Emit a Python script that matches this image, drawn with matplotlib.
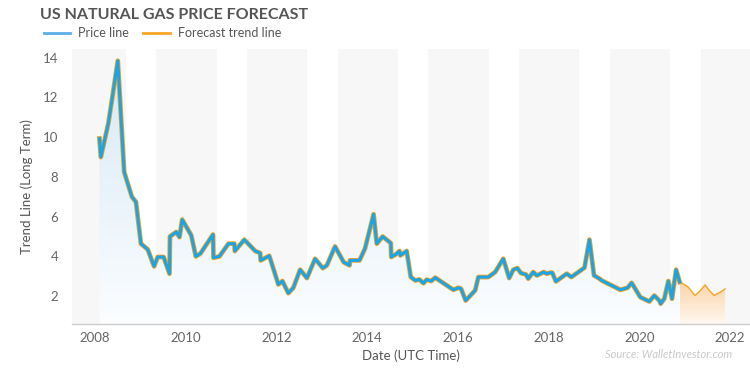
import numpy as np
import matplotlib
matplotlib.use("Agg")
import matplotlib.pyplot as plt
from matplotlib.colors import LinearSegmentedColormap
from matplotlib.lines import Line2D

# price history (decimal year, value)
price_years = [2008.095, 2008.126, 2008.29, 2008.37, 2008.50, 2008.64, 2008.81, 2008.90,
               2009.01, 2009.16, 2009.30, 2009.38, 2009.51, 2009.64, 2009.65, 2009.79,
               2009.86, 2009.92, 2010.12, 2010.22, 2010.32, 2010.60, 2010.61, 2010.74,
               2010.94, 2011.07, 2011.08, 2011.29, 2011.53, 2011.64, 2011.65, 2011.84,
               2012.04, 2012.13, 2012.26, 2012.37, 2012.52, 2012.67, 2012.85, 2013.02,
               2013.11, 2013.29, 2013.48, 2013.61, 2013.62, 2013.83, 2013.95, 2014.14,
               2014.21, 2014.34, 2014.52, 2014.53, 2014.63, 2014.71, 2014.73, 2014.87,
               2014.96, 2015.06, 2015.15, 2015.24, 2015.31, 2015.41, 2015.50, 2015.90,
               2016.01, 2016.07, 2016.17, 2016.38, 2016.45, 2016.67, 2016.82, 2017.00,
               2017.13, 2017.22, 2017.31, 2017.39, 2017.50, 2017.55, 2017.66, 2017.74,
               2017.89, 2017.96, 2018.03, 2018.08, 2018.16, 2018.40, 2018.50, 2018.79,
               2018.90, 2019.00, 2019.12, 2019.17, 2019.58, 2019.74, 2019.83, 2020.02,
               2020.22, 2020.33, 2020.44, 2020.47, 2020.55, 2020.64, 2020.72, 2020.81,
               2020.89]
price_values = [9.93, 9.0, 10.68, 11.86, 13.84, 8.25, 7.0, 6.74,
                4.64, 4.35, 3.5, 3.97, 3.97, 3.13, 5.0, 5.23,
                4.97, 5.85, 5.06, 4.0, 4.14, 5.1, 3.93, 4.0,
                4.64, 4.64, 4.27, 4.84, 4.27, 4.17, 3.8, 4.03,
                2.59, 2.76, 2.15, 2.42, 3.33, 2.91, 3.88, 3.41,
                3.55, 4.5, 3.71, 3.55, 3.8, 3.8, 4.39, 6.12,
                4.64, 5.0, 4.67, 3.97, 4.1, 4.27, 4.05, 4.27,
                2.96, 2.79, 2.84, 2.65, 2.83, 2.76, 2.93, 2.32,
                2.42, 2.37, 1.78, 2.29, 2.96, 2.96, 3.21, 3.88,
                2.91, 3.33, 3.41, 3.16, 3.09, 2.88, 3.21, 3.04,
                3.21, 3.13, 3.18, 3.18, 2.74, 3.13, 2.96, 3.43,
                4.84, 3.04, 2.88, 2.79, 2.32, 2.42, 2.67, 1.95,
                1.73, 2.03, 1.78, 1.62, 1.87, 2.76, 1.87, 3.33,
                2.71]

# forecast trend
fc_years = [2020.89, 2020.99, 2021.08, 2021.23, 2021.34, 2021.45, 2021.55, 2021.65,
            2021.74, 2021.79, 2021.89]
fc_values = [2.71, 2.59, 2.45, 2.03, 2.27, 2.57, 2.27, 2.03, 2.15, 2.2, 2.37]

x_ticks = [2008, 2010, 2012, 2014, 2016, 2018, 2020, 2022]
y_ticks = [2, 4, 6, 8, 10, 12, 14]

FONT = "Lato"
plt.rcParams["font.family"] = [FONT, "DejaVu Sans"]

fig = plt.figure(figsize=(7.5, 3.69), dpi=100)
ax = fig.add_axes([0.096, 0.122, 0.904, 0.745])

xmin, xmax = 2007.49, 2022.44
ymin, ymax = 0.6, 14.43

# alternating bands
for k in range(-1, 8):
    ax.axvspan(2007.35 + 2 * k, 2008.68 + 2 * k, color="#f7f7f7", lw=0, zorder=0)


def gradient_fill(xs, ys, top, c_top, c_bottom):
    poly = ax.fill_between(xs, ys, ymin, color="none", lw=0)
    cmap = LinearSegmentedColormap.from_list("g", [c_bottom, c_top])
    grad = np.linspace(0, 1, 256).reshape(-1, 1)
    im = ax.imshow(grad, extent=[min(xs), max(xs), ymin, top], aspect="auto",
                   cmap=cmap, origin="lower", zorder=1)
    im.set_clip_path(poly.get_paths()[0], transform=ax.transData)


gradient_fill(price_years, price_values, max(price_values), "#d8e9f6", "#fbfdff")
gradient_fill(fc_years, fc_values, max(fc_values), "#fbd4a8", "#fff8f0")

ax.plot(price_years, price_values, color="#f5a01e", lw=3.4, zorder=3,
        solid_joinstyle="round")
ax.plot(price_years, price_values, color="#1aa5e6", lw=2.2, zorder=4,
        solid_joinstyle="round")
ax.plot(fc_years, fc_values, color="#f5a623", lw=1.0, zorder=3)

ax.set_xlim(xmin, xmax)
ax.set_ylim(ymin, ymax)
ax.set_xticks(x_ticks)
ax.set_yticks(y_ticks)
ax.tick_params(length=0, labelsize=9.5, colors="#666666", pad=6)
ax.tick_params(axis="y", pad=10)
for s in ["top", "right", "left"]:
    ax.spines[s].set_visible(False)
ax.spines["bottom"].set_color("#cccccc")
ax.spines["bottom"].set_linewidth(1)

ax.set_xlabel("Date (UTC Time)", fontsize=9.5, color="#555555", labelpad=4)
ax.set_ylabel("Trend Line (Long Term)", fontsize=9.5, color="#555555", labelpad=7)

fig.text(0.053, 0.958, "US NATURAL GAS PRICE FORECAST", fontsize=11.5,
         fontweight="bold", color="#555555", va="center", ha="left")

# legend
fig.add_artist(Line2D([0.058, 0.093], [0.91, 0.91], color="#5aaee8", lw=2))
fig.text(0.104, 0.91, "Price line", fontsize=9, color="#555555", va="center")
fig.add_artist(Line2D([0.191, 0.226], [0.91, 0.91], color="#f5a623", lw=2))
fig.text(0.237, 0.91, "Forecast trend line", fontsize=9, color="#555555", va="center")

fig.text(0.976, 0.038, "Source: WalletInvestor.com", fontsize=8, color="#c8c8c8",
         style="italic", ha="right", va="center")

fig.savefig("out.png", dpi=100, facecolor="white")
